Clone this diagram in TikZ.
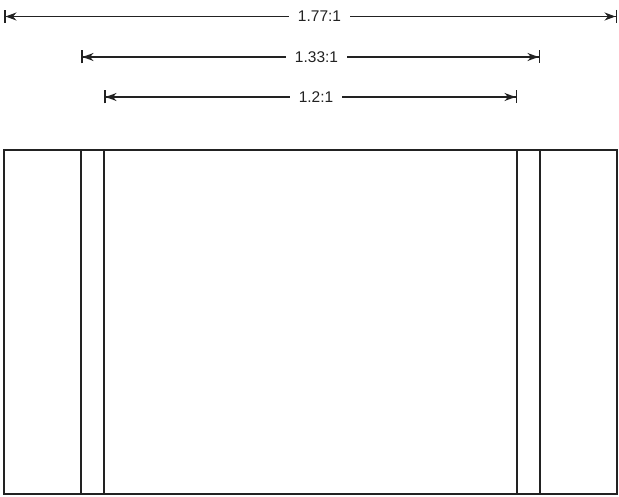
\documentclass[tikz,border=0pt]{standalone}
\usepackage{fontspec}
\setmainfont{Liberation Sans}
\usetikzlibrary{arrows.meta}
\definecolor{ink}{HTML}{222222}
\tikzset{
  dim/.style={draw=ink, line width=1.4pt, {Bar[width=13pt,line width=1.5pt]Stealth[length=11pt,width=8pt,inset=3.5pt]}-{Stealth[length=11pt,width=8pt,inset=3.5pt]Bar[width=13pt,line width=1.5pt]}},
  dimlabel/.style={fill=white, inner xsep=9pt, inner ysep=2pt, text=ink, font=\fontsize{15.5pt}{17pt}\selectfont},
  frame/.style={draw=ink, line width=1.9pt},
}
\begin{document}
\begin{tikzpicture}[x=1pt,y=-1pt]
\useasboundingbox (0,0) rectangle (619,497);
% dimension end points
\coordinate (a1) at (4,16.5);
\coordinate (b1) at (617,16.5);
\coordinate (a2) at (81,57);
\coordinate (b2) at (540,57);
\coordinate (a3) at (104,97);
\coordinate (b3) at (517,97);
\draw[dim] (a1) -- (b1);
\draw[dim] (a2) -- (b2);
\draw[dim] (a3) -- (b3);
\node[dimlabel] (l1) at (319.5,16.5) {1.77:1};
\node[dimlabel] (l2) at (316.5,57) {1.33:1};
\node[dimlabel] (l3) at (316,97) {1.2:1};
% frame
\coordinate (tl) at (4,150);
\coordinate (br) at (617,494);
\draw[frame] (tl) rectangle (br);
\draw[frame] (81,150) -- (81,494);
\draw[frame] (104,150) -- (104,494);
\draw[frame] (517,150) -- (517,494);
\draw[frame] (540,150) -- (540,494);
\end{tikzpicture}
\end{document}
